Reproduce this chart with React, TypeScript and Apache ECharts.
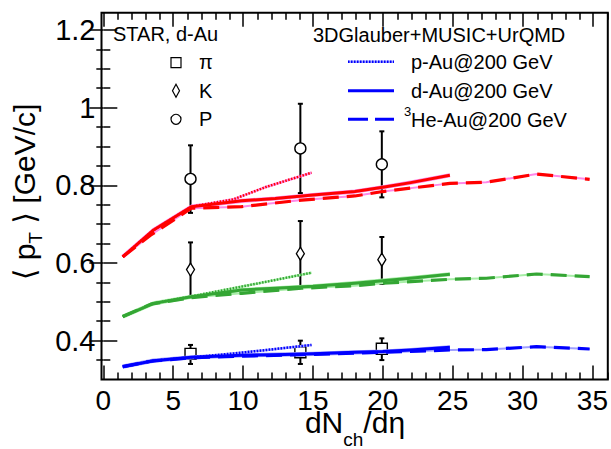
import React, { useEffect, useRef } from 'react';
import * as echarts from 'echarts';

const FONT = '"Liberation Sans", Arial, Helvetica, "DejaVu Sans", sans-serif';

const X_MIN = -0.13;
const X_MAX = 36.1;
const Y_MIN = 0.3;
const Y_MAX = 1.2445;

const xMajorTicks = [0, 5, 10, 15, 20, 25, 30, 35];
const xMinorTicks = [1, 2, 3, 4, 6, 7, 8, 9, 11, 12, 13, 14, 16, 17, 18, 19, 21, 22, 23, 24, 26, 27, 28, 29, 31, 32, 33, 34, 36];
const yMajorTicks = [0.4, 0.6, 0.8, 1.0, 1.2];
const yMinorTicks = [0.35, 0.45, 0.5, 0.55, 0.65, 0.7, 0.75, 0.85, 0.9, 0.95, 1.05, 1.1, 1.15];

// STAR d-Au measurements
const starX = [6.24, 14.1, 19.93];
const piMean = [0.366, 0.37, 0.379];
const piLow = [0.34, 0.34, 0.35];
const piHigh = [0.389, 0.4, 0.406];
const kMean = [0.583, 0.624, 0.6085];
const kLow = [0.511, 0.538, 0.546];
const kHigh = [0.653, 0.708, 0.667];
const pMean = [0.8165, 0.895, 0.854];
const pLow = [0.729, 0.78, 0.769];
const pHigh = [0.903, 1.01, 0.939];

// 3DGlauber+MUSIC+UrQMD model curves
const pAuX = [1.39, 3.6, 6.3, 9.3, 11.7, 14.9];
const pAuPi = [0.333, 0.3485, 0.357, 0.367, 0.376, 0.389];
const pAuK = [0.462, 0.496, 0.514, 0.535, 0.552, 0.575];
const pAuP = [0.616, 0.685, 0.745, 0.764, 0.7965, 0.8325];

const dAuX = [1.39, 3.6, 6.3, 9.9, 12.3, 15, 18, 20, 22, 24.8];
const dAuPi = [0.333, 0.3485, 0.357, 0.3624, 0.364, 0.366, 0.37, 0.372, 0.376, 0.383];
const dAuK = [0.462, 0.496, 0.513, 0.5305, 0.535, 0.54, 0.548, 0.5545, 0.561, 0.571];
const dAuP = [0.616, 0.685, 0.745, 0.76, 0.766, 0.775, 0.784, 0.795, 0.807, 0.826];

const heAuX = [1.39, 3.4, 6.3, 9.9, 14.2, 18, 20, 24.8, 27.4, 31, 34.8];
const heAuPi = [0.333, 0.347, 0.356, 0.36, 0.364, 0.368, 0.37, 0.376, 0.377, 0.3846, 0.3786];
const heAuK = [0.462, 0.494, 0.511, 0.522, 0.535, 0.5416, 0.5478, 0.558, 0.5607, 0.5717, 0.5648];
const heAuP = [0.616, 0.672, 0.741, 0.745, 0.762, 0.7726, 0.784, 0.805, 0.808, 0.829, 0.8155];

const zip = (xs: number[], ys: number[]) => xs.map((x, i) => [x, ys[i]]);

const particles = [
  { color: '#0000ff', halo: '#a0a0ff', pAu: pAuPi, dAu: dAuPi, heAu: heAuPi },
  { color: '#34a634', halo: '#a8eea8', pAu: pAuK, dAu: dAuK, heAu: heAuK },
  { color: '#ff0000', halo: '#ff88e8', pAu: pAuP, dAu: dAuP, heAu: heAuP },
];

const measurements = [
  { mean: piMean, low: piLow, high: piHigh, symbol: 'rect', size: 11 as any },
  { mean: kMean, low: kLow, high: kHigh, symbol: 'diamond', size: [8, 13] as any },
  { mean: pMean, low: pLow, high: pHigh, symbol: 'circle', size: 11 as any },
];

let measureCtx: CanvasRenderingContext2D | null = null;
function measure(text: string, size: number) {
  if (!measureCtx) measureCtx = document.createElement('canvas').getContext('2d');
  if (!measureCtx) return text.length * size * 0.55;
  measureCtx.font = `${size}px ${FONT}`;
  return measureCtx.measureText(text).width;
}

type Part = { t: string; size: number; dy: number };
function textRun(parts: Part[], x: number, y: number, rotation = 0) {
  const widths = parts.map((p) => measure(p.t, p.size));
  const total = widths.reduce((a, b) => a + b, 0);
  let cur = -total / 2;
  const children = parts.map((p, i) => {
    const el = {
      type: 'text',
      x: cur,
      y: p.dy,
      z: 10,
      style: {
        text: p.t,
        fontSize: p.size,
        lineHeight: Math.round(p.size * 0.8),
        fontFamily: FONT,
        fill: '#000',
        align: 'left',
        textAlign: 'left',
        verticalAlign: 'middle',
        textVerticalAlign: 'middle',
      },
    };
    cur += widths[i];
    return el;
  });
  return { type: 'group', x, y, rotation, z: 10, children };
}

function buildOption() {
  const series: any[] = [];
  particles.forEach((p) => {
    const line = (xs: number[], ys: number[], color: string, width: number, type: any, z: number) => ({
      type: 'line',
      data: zip(xs, ys),
      symbol: 'none',
      xAxisIndex: 0,
      yAxisIndex: 0,
      z,
      lineStyle: { color, width, type, cap: 'butt', join: 'round' },
      silent: true,
    });
    series.push(line(heAuX, p.heAu, p.halo, 2, 'solid', 3));
    series.push(line(dAuX, p.dAu, p.halo, 4.2, 'solid', 3));
    series.push(line(pAuX, p.pAu, p.halo, 2.5, 'solid', 3));
    series.push(line(pAuX, p.pAu, p.color, 2.5, [1.5, 1.5], 4));
    series.push(line(dAuX, p.dAu, p.color, 3, 'solid', 4));
    series.push(line(heAuX, p.heAu, p.color, 3.2, [16, 8], 4));
  });
  measurements.forEach((m) => {
    series.push({
      type: 'custom',
      xAxisIndex: 0,
      yAxisIndex: 0,
      z: 1,
      data: starX.map((x, i) => [x, m.low[i], m.high[i]]),
      encode: { x: 0, y: [1, 2] },
      renderItem: (params: any, api: any) => {
        const x = api.value(0);
        const lo = api.coord([x, api.value(1)]);
        const hi = api.coord([x, api.value(2)]);
        const w = 2.5;
        const st = { stroke: '#000', lineWidth: 2 };
        return {
          type: 'group',
          children: [
            { type: 'line', shape: { x1: lo[0], y1: lo[1], x2: hi[0], y2: hi[1] }, style: st },
            { type: 'line', shape: { x1: lo[0] - w, y1: lo[1], x2: lo[0] + w, y2: lo[1] }, style: st },
            { type: 'line', shape: { x1: hi[0] - w, y1: hi[1], x2: hi[0] + w, y2: hi[1] }, style: st },
          ],
        };
      },
    });
    series.push({
      type: 'scatter',
      xAxisIndex: 0,
      yAxisIndex: 0,
      z: 2,
      symbol: m.symbol,
      symbolSize: m.size,
      data: zip(starX, m.mean),
      itemStyle: { color: '#ffffff', borderColor: '#000', borderWidth: 1.4, opacity: 1 },
    });
  });

  const tickStyle = { color: '#000', width: 1.5 };
  const xAx = (gridIndex: number, position: string, ticks: number[], len: number, labels: boolean) => ({
    type: 'value',
    gridIndex,
    position,
    min: X_MIN,
    max: X_MAX,
    axisLine: { show: false },
    splitLine: { show: false },
    axisTick: { show: true, inside: true, length: len, customValues: ticks, lineStyle: tickStyle },
    axisLabel: labels
      ? { show: true, customValues: xMajorTicks, fontSize: 28, lineHeight: 22, color: '#000', fontFamily: FONT, margin: 10 }
      : { show: false },
  });
  const yAx = (gridIndex: number, position: string, ticks: number[], len: number, labels: boolean) => ({
    type: 'value',
    gridIndex,
    position,
    min: Y_MIN,
    max: Y_MAX,
    axisLine: { show: false },
    splitLine: { show: false },
    axisTick: { show: true, inside: true, length: len, customValues: ticks, lineStyle: tickStyle },
    axisLabel: labels
      ? {
          show: true,
          customValues: yMajorTicks,
          fontSize: 29,
          color: '#000',
          fontFamily: FONT,
          margin: 6,
          formatter: (v: number) => String(Math.round(v * 10) / 10),
        }
      : { show: false },
  });

  const gridBox = { left: 101.5, right: 2, top: 12.7, bottom: 69.5 };
  const txt = (text: string, x: number, y: number, size = 20) => ({
    type: 'text',
    x,
    y,
    z: 10,
    style: {
      text,
      fontSize: size,
      fontFamily: FONT,
      fill: '#000',
      textAlign: 'left',
      align: 'left',
      textVerticalAlign: 'middle',
      verticalAlign: 'middle',
    },
  });
  const legLine = (y: number, dash: any, width: number) => ({
    type: 'line',
    z: 10,
    shape: { x1: 348, y1: y, x2: 394, y2: y },
    style: { stroke: '#0000ff', lineWidth: width, lineDash: dash },
  });

  const graphic: any[] = [
    txt('STAR, d-Au', 113, 34),
    { type: 'rect', z: 10, shape: { x: 171, y: 57.7, width: 10, height: 10 }, style: { fill: '#fff', stroke: '#000', lineWidth: 1.2 } },
    txt('π', 199, 62),
    {
      type: 'polygon',
      z: 10,
      shape: { points: [[176, 84.2], [179.5, 90.7], [176, 97.2], [172.5, 90.7]] },
      style: { fill: '#fff', stroke: '#000', lineWidth: 1.2 },
    },
    txt('K', 199, 90.7),
    { type: 'circle', z: 10, shape: { cx: 176, cy: 119.3, r: 5 }, style: { fill: '#fff', stroke: '#000', lineWidth: 1.2 } },
    txt('P', 199, 119.3),
    txt('3DGlauber+MUSIC+UrQMD', 313, 35),
    { type: 'line', z: 9, shape: { x1: 348, y1: 61.7, x2: 394, y2: 61.7 }, style: { stroke: '#a0a0ff', lineWidth: 2.5 } },
    legLine(61.7, [1.5, 1.5], 2.5),
    legLine(90.7, null, 3),
    legLine(119.3, [20, 7], 3),
    txt('p-Au@200 GeV', 411, 62),
    txt('d-Au@200 GeV', 411, 90.7),
    txt('3', 404, 111, 13),
    txt('He-Au@200 GeV', 411, 119.5),
    textRun(
      [
        { t: 'dN', size: 30, dy: 0 },
        { t: 'ch', size: 19, dy: 17 },
        { t: '/dη', size: 30, dy: 0 },
      ],
      355,
      422
    ),
    textRun(
      [
        { t: '⟨ p', size: 30, dy: 0 },
        { t: 'T', size: 19, dy: 11 },
        { t: ' ⟩ [GeV/c]', size: 30, dy: 0 },
      ],
      24,
      192,
      Math.PI / 2
    ),
  ];

  return {
    animation: false,
    backgroundColor: '#ffffff',
    grid: [
      { ...gridBox, show: true, borderColor: '#000', borderWidth: 2, backgroundColor: 'transparent', containLabel: false },
      { ...gridBox, show: false, containLabel: false },
    ],
    xAxis: [
      xAx(0, 'bottom', xMajorTicks, 14, true),
      xAx(0, 'top', xMajorTicks, 14, false),
      xAx(1, 'bottom', xMinorTicks, 7, false),
      xAx(1, 'top', xMinorTicks, 7, false),
    ],
    yAxis: [
      yAx(0, 'left', yMajorTicks, 14, true),
      yAx(0, 'right', yMajorTicks, 14, false),
      yAx(1, 'left', yMinorTicks, 7, false),
      yAx(1, 'right', yMinorTicks, 7, false),
    ],
    series,
    graphic,
  };
}

export default function App() {
  const ref = useRef<HTMLDivElement>(null);
  useEffect(() => {
    if (!ref.current) return;
    const chart = echarts.init(ref.current, null, { renderer: 'svg' });
    chart.setOption(buildOption() as any);
    return () => chart.dispose();
  }, []);
  return (
    <div
      ref={ref}
      style={{ position: 'absolute', left: 0, top: 0, width: 611, height: 449, background: '#fff' }}
    />
  );
}
